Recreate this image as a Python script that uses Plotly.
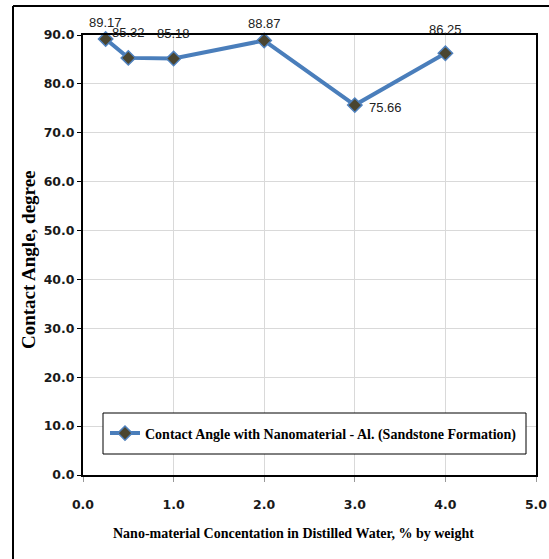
import plotly.graph_objects as go

# Data
concentration = [0.25, 0.5, 1.0, 2.0, 3.0, 4.0]
contact_angle = [89.17, 85.32, 85.18, 88.87, 75.66, 86.25]
labels = ["89.17", "85.32", "85.18", "88.87", "75.66", "86.25"]
series_name = "Contact Angle with Nanomaterial - Al. (Sandstone Formation)"
x_title = "Nano-material Concentation in Distilled Water, % by weight"
y_title = "Contact Angle, degree"

# label offsets (style)
label_xshift = [0, 0, 0, 0, 31, 0]
label_yshift = [17, 25, 25, 17, -2, 24]

W, H = 549, 559
ML, MR, MT, MB = 83, 13, 35, 84
pw = W - ML - MR
ph = H - MT - MB

def px(xp):
    return (xp - ML) / pw

def py(yp):
    return (H - MB - yp) / ph

fig = go.Figure()
fig.add_trace(go.Scatter(
    x=concentration, y=contact_angle, mode="lines+markers",
    name=series_name,
    line=dict(color="#4a7ebb", width=4),
    marker=dict(symbol="diamond", size=11, color="#4a4530",
                line=dict(color="#4f81bd", width=1.5)),
    cliponaxis=False,
))

for x, y, t, dx, dy in zip(concentration, contact_angle, labels, label_xshift, label_yshift):
    fig.add_annotation(x=x, y=y, text=t, showarrow=False, xshift=dx, yshift=dy,
                       font=dict(family="Liberation Sans, Arial", size=13, color="#222222"))

tickfont = dict(family="DejaVu Sans", size=12.5, color="#1a1a1a", weight="bold")

fig.update_xaxes(range=[0, 5], dtick=1, tick0=0, tickformat=".1f",
                 showgrid=True, gridcolor="#d9d9d9", gridwidth=1,
                 showline=True, linecolor="black", linewidth=2, mirror=True,
                 ticks="outside", ticklen=5, tickcolor="#999999",
                 tickfont=tickfont, ticklabelstandoff=12, zeroline=False)
fig.update_yaxes(range=[0, 90], dtick=10, tick0=0, tickformat=".1f",
                 showgrid=True, gridcolor="#d9d9d9", gridwidth=1,
                 showline=True, linecolor="black", linewidth=2, mirror=True,
                 ticks="outside", ticklen=4, tickcolor="black",
                 tickfont=tickfont, zeroline=False)

# axis titles as annotations
fig.add_annotation(xref="paper", yref="paper", x=px(293), y=py(533),
                   xanchor="center", yanchor="middle",
                   text="<b>" + x_title + "</b>", showarrow=False,
                   font=dict(family="Liberation Serif, Times New Roman", size=14, color="black"))
fig.add_annotation(xref="paper", yref="paper", x=px(28), y=py(260),
                   xanchor="center", yanchor="middle",
                   text="<b>" + y_title + "</b>", showarrow=False, textangle=-90,
                   font=dict(family="Liberation Serif, Times New Roman", size=19, color="black"))

# outer frame (left and top edges; the rest lies beyond the picture)
fig.add_shape(type="line", xref="paper", yref="paper",
              x0=px(13), x1=px(13), y0=py(570), y1=py(6),
              line=dict(color="black", width=2), layer="below")
fig.add_shape(type="line", xref="paper", yref="paper",
              x0=px(13), x1=px(570), y0=py(6), y1=py(6),
              line=dict(color="black", width=2), layer="below")

# legend box
fig.add_shape(type="rect", xref="paper", yref="paper",
              x0=px(103), x1=px(526), y0=py(454), y1=py(413),
              line=dict(color="black", width=1), fillcolor="white", layer="above")

fig.update_layout(
    width=W, height=H,
    margin=dict(l=ML, r=MR, t=MT, b=MB, autoexpand=False),
    paper_bgcolor="white", plot_bgcolor="white",
    showlegend=True,
    legend=dict(x=px(105), y=py(433.5), xanchor="left", yanchor="middle",
                bgcolor="rgba(0,0,0,0)", borderwidth=0,
                font=dict(family="Liberation Serif, Times New Roman", size=14, color="black",
                          weight="bold")),
)

fig.write_html("out.html", config={"displayModeBar": False},
               post_script="document.body.style.margin='0';document.body.style.overflow='hidden';")
